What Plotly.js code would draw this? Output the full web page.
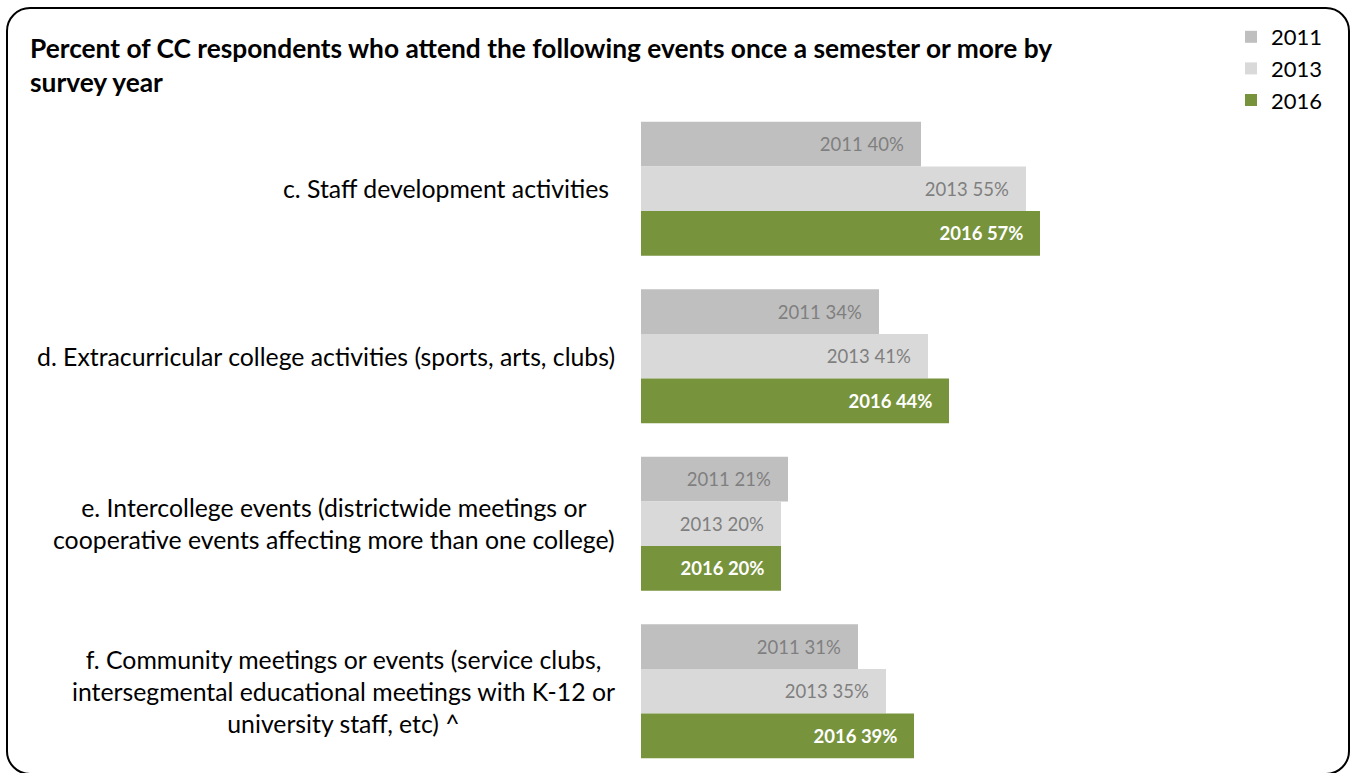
<!DOCTYPE html>
<html>
<head>
<meta charset="utf-8">
<script src="https://cdn.plot.ly/plotly-3.0.1.min.js"></script>
<style>
  html, body { margin: 0; padding: 0; background: #fff; }
  #wrap { position: relative; width: 1352px; height: 773px; overflow: hidden; }
  #chart { position: absolute; left: 0; top: 0; width: 1352px; height: 773px; }
  #frame { position: absolute; left: 6px; top: 7px; width: 1340px; height: 764px;
           border: 2px solid #000; border-radius: 24px; pointer-events: none; }
</style>
</head>
<body>
<div id="wrap">
  <div id="chart"></div>
  <div id="frame"></div>
</div>
<script>
const categories = [
  "c. Staff development activities",
  "d. Extracurricular college activities (sports, arts, clubs)",
  "e. Intercollege events (districtwide meetings or<br>cooperative events affecting more than one college)",
  "f. Community meetings or events (service clubs,<br>intersegmental educational meetings with K-12 or<br>university staff, etc) ^"
];
const years = ["2011", "2013", "2016"];
const values2011 = [40, 34, 21, 31];
const values2013 = [55, 41, 20, 35];
const values2016 = [57, 44, 20, 39];

const seriesValues = [values2011, values2013, values2016];
const colors = ["#bfbfbf", "#d9d9d9", "#77933c"];
const textColors = ["#7f7f7f", "#7f7f7f", "#ffffff"];
const textWeights = ["normal", "normal", "bold"];
const pad = "\u00a0\u00a0\u00a0";
const FONT = "Lato, 'Open Sans', sans-serif";

const traces = years.map((yr, i) => ({
  type: "bar",
  orientation: "h",
  name: yr,
  x: seriesValues[i],
  y: categories.map((c, k) => k),
  marker: { color: colors[i], line: { width: 0 } },
  text: seriesValues[i].map(v => yr + " " + v + "%" + pad),
  textposition: "inside",
  insidetextanchor: "end",
  constraintext: "none",
  textfont: { family: FONT, size: 18.5, color: textColors[i], weight: textWeights[i] },
  hoverinfo: "skip"
}));

const labelRight = [-30, -24, -24, -24];
const annotations = categories.map((c, k) => ({
  xref: "paper", yref: "y",
  x: labelRight[k] / 700, y: k,
  text: c,
  showarrow: false,
  xanchor: "right",
  yanchor: "middle",
  align: "center",
  font: { family: FONT, size: 24.8, color: "#000" }
}));

const layout = {
  width: 1352, height: 773,
  margin: { l: 641, r: 11, t: 105, b: 3, pad: 0 },
  paper_bgcolor: "#fff",
  plot_bgcolor: "#fff",
  barmode: "group",
  bargap: 0.2,
  bargroupgap: 0,
  title: {
    text: "<b>Percent of CC respondents who attend the following events once a semester or more by<br>survey year</b>",
    xref: "container", yref: "container",
    x: 30 / 1352, xanchor: "left",
    y: 1 - 58 / 773, yanchor: "top",
    font: { family: FONT, size: 26.3, color: "#000" }
  },
  xaxis: {
    range: [0, 100], autorange: false,
    showgrid: false, zeroline: false, showline: false,
    showticklabels: false, ticks: ""
  },
  yaxis: {
    type: "linear",
    range: [3.47, -0.5], autorange: false,
    showgrid: false, zeroline: false, showline: false,
    showticklabels: false, ticks: ""
  },
  showlegend: true,
  legend: {
    x: (1231 - 641) / 700, xanchor: "left",
    y: 1 + (105 - 16) / 665, yanchor: "top",
    traceorder: "normal",
    font: { family: FONT, size: 22, color: "#000" },
    itemwidth: 30,
    tracegroupgap: 0,
    bgcolor: "rgba(0,0,0,0)"
  },
  annotations: annotations
};

Plotly.newPlot("chart", traces, layout, { displayModeBar: false, staticPlot: true });
</script>
</body>
</html>
